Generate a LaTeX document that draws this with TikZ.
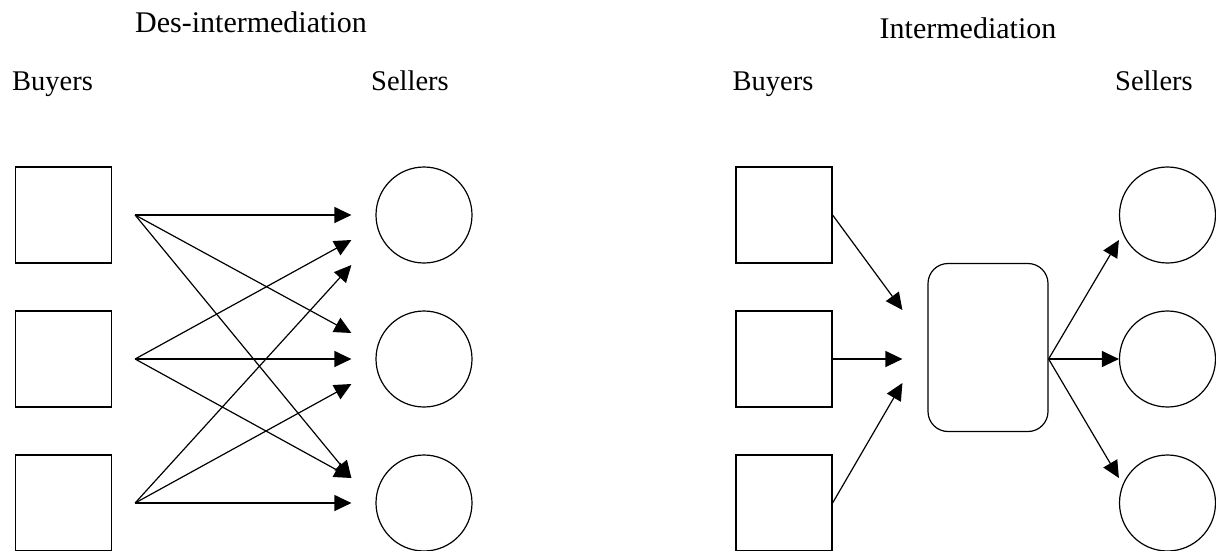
\documentclass[tikz,border=0pt]{standalone}
\usepackage{fontspec}
\setmainfont{Liberation Serif}
\usetikzlibrary{arrows.meta,calc}
\begin{document}
\begin{tikzpicture}[x=1pt,y=-1pt,
  buyer/.style={draw,line width=1.2pt,minimum width=96pt,minimum height=96pt,inner sep=0pt},
  seller/.style={draw,circle,line width=1.2pt,minimum size=96pt,inner sep=0pt},
  hub/.style={draw,rounded corners=20pt,line width=1.2pt,minimum width=120pt,minimum height=168pt,inner sep=0pt},
  flow/.style={line width=1.2pt,-{Triangle[length=17pt,width=16pt]}},
  heading/.style={font=\fontsize{30}{36}\selectfont,anchor=base,inner sep=0pt},
  side/.style={font=\fontsize{28.5}{34}\selectfont,anchor=base,inner sep=0pt}]
\useasboundingbox (0,0) rectangle (1216,550);
\clip (0,0) rectangle (1216,550);

% ---------- direct trade ----------
\node[heading] (t1) at (251,32) {Des-intermediation};
\node[side] (lb) at (52.5,90) {Buyers};
\node[side] (ls) at (410,90) {Sellers};

\node[buyer] (b1) at (63.5,215) {};
\node[buyer] (b2) at (63.5,359) {};
\node[buyer] (b3) at (63.5,503) {};
\node[seller] (c1) at (424,215) {};
\node[seller] (c2) at (424,359) {};
\node[seller] (c3) at (424,503) {};

\coordinate (s1) at ($(b1.east)+(23,0)$);
\coordinate (s2) at ($(b2.east)+(23,0)$);
\coordinate (s3) at ($(b3.east)+(23,0)$);

\coordinate (e11) at ($(c1.west)+(-24,0)$);
\coordinate (e21) at ($(c1.west)+(-24,25)$);
\coordinate (e31) at ($(c1.west)+(-24,50)$);
\coordinate (e12) at ($(c2.west)+(-24,-26)$);
\coordinate (e22) at ($(c2.west)+(-24,0)$);
\coordinate (e32) at ($(c2.west)+(-24,25)$);
\coordinate (e13) at ($(c3.west)+(-24,-25)$);
\coordinate (e23) at ($(c3.west)+(-24,-25)$);
\coordinate (e33) at ($(c3.west)+(-24,0)$);

\draw[flow] (s1) -- (e11);
\draw[flow] (s1) -- (e12);
\draw[flow] (s1) -- (e13);
\draw[flow] (s2) -- (e21);
\draw[flow] (s2) -- (e22);
\draw[flow] (s2) -- (e23);
\draw[flow] (s3) -- (e31);
\draw[flow] (s3) -- (e32);
\draw[flow] (s3) -- (e33);

% ---------- trade through an intermediary ----------
\node[heading] (t2) at (968,38) {Intermediation};
\node[side] (rb) at (773,90) {Buyers};
\node[side] (rs) at (1154,90) {Sellers};

\node[buyer] (rb1) at (784,215) {};
\node[buyer] (rb2) at (784,359) {};
\node[buyer] (rb3) at (784,503) {};
\node[hub] (h) at (988,347.5) {};
\node[seller] (rc1) at (1167.5,215) {};
\node[seller] (rc2) at (1167.5,359) {};
\node[seller] (rc3) at (1167.5,503) {};

\coordinate (i1) at ($(h.west)+(-25,-37.5)$);
\coordinate (i2) at ($(h.west)+(-25,11.5)$);
\coordinate (i3) at ($(h.west)+(-25,35.5)$);
\coordinate (ho) at (h.east |- rc2.west);
\coordinate (o1) at ($(rc1.west)+(0,25)$);
\coordinate (o3) at ($(rc3.west)+(0,-25)$);

\draw[flow] (rb1.east) -- (i1);
\draw[flow] (rb2.east) -- (i2);
\draw[flow] (rb3.east) -- (i3);
\draw[flow] (ho) -- (o1);
\draw[flow] (ho) -- (rc2.west);
\draw[flow] (ho) -- (o3);
\end{tikzpicture}
\end{document}
